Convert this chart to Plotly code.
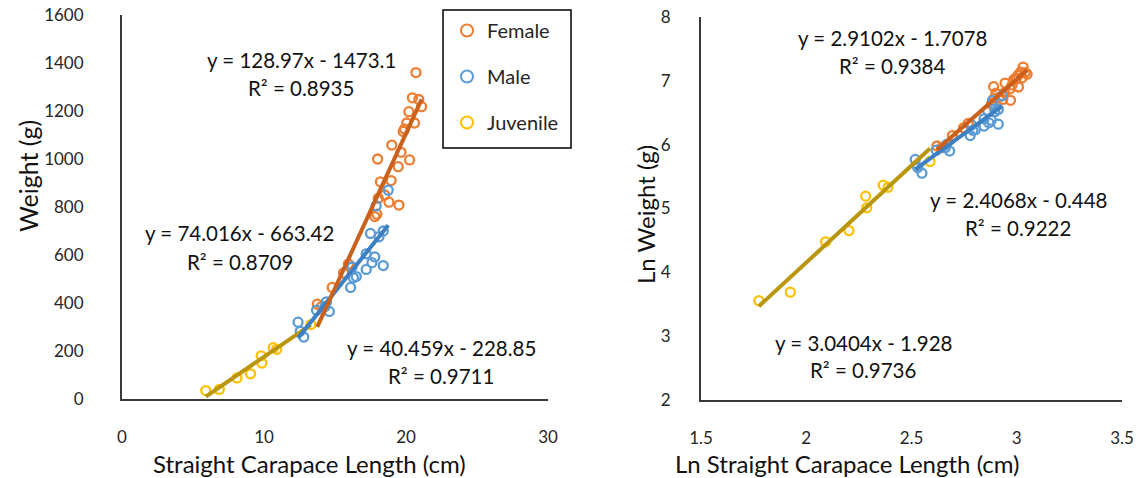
import numpy as np
import plotly.graph_objects as go

W, H = 1142, 478

# ---------------- data ----------------
female_scl = [13.75, 14.05, 14.8, 15.6, 15.95, 17.8, 17.95, 18.05, 18.5, 18.8, 19.5, 18.2, 18.95, 19.45,
              18.0, 19.0, 19.65, 20.25, 19.9, 20.05, 20.6, 20.2, 20.45, 20.9, 21.1, 20.7, 19.8]
female_wt = [395, 385, 465, 525, 562, 760, 770, 836, 850, 820, 808, 905, 910, 968,
             1000, 1058, 1028, 996, 1125, 1150, 1150, 1197, 1255, 1248, 1218, 1360, 1115]

male_scl = [12.4, 12.55, 12.8, 13.7, 14.3, 14.6, 14.4, 16.1, 16.3, 16.2, 16.5, 17.2, 17.2, 17.6,
            17.8, 18.4, 17.5, 18.1, 18.4, 17.9, 18.75]
male_wt = [320, 282, 258, 370, 385, 365, 405, 465, 505, 550, 510, 540, 605, 568,
           592, 556, 690, 676, 700, 805, 870]

juv_scl = [5.9, 6.85, 8.1, 9.05, 9.8, 9.85, 10.65, 10.9, 13.3]
juv_wt = [35, 40, 88, 105, 180, 150, 214, 207, 310]

series_names = ["Female", "Male", "Juvenile"]

# linear trendline coefficients (slope, intercept, R²) as printed on the chart
lin_slope = [128.97, 74.016, 40.459]
lin_icept = [-1473.1, -663.42, -228.85]
lin_r2 = [0.8935, 0.8709, 0.9711]

ln_slope = [2.9102, 2.4068, 3.0404]
ln_icept = [-1.7078, -0.448, -1.928]
ln_r2 = [0.9384, 0.9222, 0.9736]

left_xticks = [0, 10, 20, 30]
left_yticks = [0, 200, 400, 600, 800, 1000, 1200, 1400, 1600]
right_xticks = [1.5, 2, 2.5, 3, 3.5]
right_yticks = [2, 3, 4, 5, 6, 7, 8]

# ---------------- style ----------------
marker_colors = ["#ED7D31", "#5B9BD5", "#FFC000"]
line_colors = ["#C9601C", "#3C7FC2", "#B9960C"]
FONT = "Lato"
AX = "#3a3a3a"
TXT = "#262626"

def px(x):
    return x / W

def py(y):
    return 1 - y / H

fig = go.Figure()

xs_all = [female_scl, male_scl, juv_scl]
ys_all = [female_wt, male_wt, juv_wt]

# markers
for i, name in enumerate(series_names):
    fig.add_trace(go.Scatter(
        x=xs_all[i], y=ys_all[i], mode="markers", name=name,
        legendgroup=name, showlegend=True,
        marker=dict(symbol="circle-open", size=9, color=marker_colors[i], line=dict(width=2.3)),
        xaxis="x", yaxis="y"))
for i, name in enumerate(series_names):
    fig.add_trace(go.Scatter(
        x=np.log(xs_all[i]), y=np.log(ys_all[i]), mode="markers", name=name,
        legendgroup=name, showlegend=False,
        marker=dict(symbol="circle-open", size=9, color=marker_colors[i], line=dict(width=2.3)),
        xaxis="x2", yaxis="y2"))

# trendlines
for i in [2, 1, 0]:
    xr = np.array([min(xs_all[i]), max(xs_all[i])])
    fig.add_trace(go.Scatter(x=xr, y=lin_slope[i] * xr + lin_icept[i], mode="lines",
                             line=dict(color=line_colors[i], width=4), showlegend=False,
                             hoverinfo="skip", xaxis="x", yaxis="y"))
    lxr = np.log(xr)
    fig.add_trace(go.Scatter(x=lxr, y=ln_slope[i] * lxr + ln_icept[i], mode="lines",
                             line=dict(color=line_colors[i], width=4), showlegend=False,
                             hoverinfo="skip", xaxis="x2", yaxis="y2"))

axis_common = dict(showgrid=False, zeroline=False, showline=True, linecolor=AX, linewidth=2,
                   ticks="", tickfont=dict(family=FONT, size=17, color=TXT), automargin=False)

fig.update_layout(
    width=W, height=H,
    margin=dict(l=0, r=0, t=0, b=0),
    paper_bgcolor="white", plot_bgcolor="white",
    showlegend=True,
    xaxis=dict(domain=[px(122), px(548)], range=[0, 30], tickvals=left_xticks,
               anchor="y", ticklabelstandoff=22, **axis_common),
    yaxis=dict(domain=[py(399), py(15)], range=[0, 1600], tickvals=left_yticks,
               anchor="x", ticklabelstandoff=33, **axis_common),
    xaxis2=dict(domain=[px(701), px(1122)], range=[1.5, 3.5], tickvals=right_xticks,
                anchor="y2", ticklabelstandoff=22, **axis_common),
    yaxis2=dict(domain=[py(400), py(17)], range=[2, 8], tickvals=right_yticks,
                anchor="x2", ticklabelstandoff=25, **axis_common),
    legend=dict(x=px(447), y=py(11), xanchor="left", yanchor="top",
                borderwidth=0, bgcolor="rgba(0,0,0,0)",
                font=dict(family=FONT, size=20, color=TXT),
                traceorder="grouped", tracegroupgap=17, itemsizing="constant"),
    shapes=[dict(type="rect", xref="paper", yref="paper",
                 x0=px(443), x1=px(571), y0=py(148), y1=py(10),
                 line=dict(color="#000000", width=1.5), fillcolor="rgba(0,0,0,0)", layer="above")],
)

ann = []
def text(x, y, s, size=20.5, angle=0):
    ann.append(dict(x=px(x), y=py(y), xref="paper", yref="paper", text=s, showarrow=False,
                    xanchor="center", yanchor="middle", textangle=angle,
                    font=dict(family=FONT, size=size, color="#111111")))

def eq(slope, icept):
    sign = "-" if icept < 0 else "+"
    return f"y = {slope:g}x {sign} {abs(icept):g}"

# equations
left_pos = [(301, 60, 301, 88), (239, 233, 240, 262), (441, 348, 441, 376)]
for i in range(3):
    a, b, c, d = left_pos[i]
    text(a, b, eq(lin_slope[i], lin_icept[i]))
    text(c, d, f"R² = {lin_r2[i]:.4f}")
right_pos = [(892, 38, 892, 66), (1018, 200, 1018, 228), (863, 343, 863, 370)]
for i in range(3):
    a, b, c, d = right_pos[i]
    text(a, b, eq(ln_slope[i], ln_icept[i]))
    text(c, d, f"R² = {ln_r2[i]:.4f}")

# axis titles
text(309, 463, "Straight Carapace Length (cm)", size=24)
text(847, 463, "Ln Straight Carapace Length (cm)", size=24)
text(28, 176, "Weight (g)", size=25, angle=-90)
text(645, 215, "Ln Weight (g)", size=24, angle=-90)

fig.update_layout(annotations=ann)
fig.write_html("out.html", config={"displayModeBar": False},
               post_script="document.body.style.margin='0px';document.body.style.overflow='hidden';")
